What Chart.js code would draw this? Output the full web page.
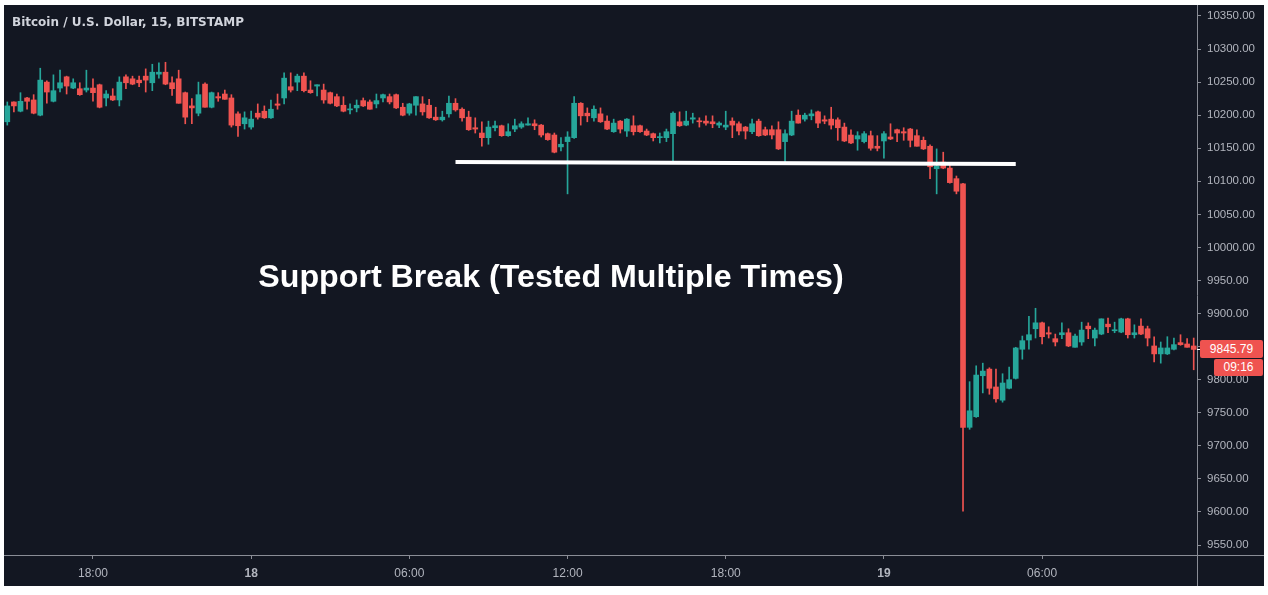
<!DOCTYPE html>
<html>
<head>
<meta charset="utf-8">
<script src="https://cdn.jsdelivr.net/npm/chart.js@4.4.1/dist/chart.umd.min.js"></script>
<style>
html, body { margin: 0; padding: 0; background: #ffffff; }
#wrap { position: absolute; left: 4px; top: 5px; width: 1260px; height: 581px; background: #131722; overflow: hidden; }
#title { position: absolute; left: 8px; top: 10px; font: bold 12px "DejaVu Sans", sans-serif; color: #d1d4dc; white-space: nowrap; }
#note { position: absolute; left: 547px; top: 253px; transform: translateX(-50%); font: bold 32.2px "Liberation Sans", Arial, sans-serif; line-height: 36px; color: #ffffff; white-space: nowrap; }
.tag { position: absolute; background: #ef5350; color: #ffffff; font: 12px "Liberation Sans", Arial, sans-serif; line-height: 18px; text-align: center; border-radius: 2px; }
</style>
</head>
<body>
<div id="wrap">
  <canvas id="chartCanvas"></canvas>
  <div id="title">Bitcoin / U.S. Dollar, 15, BITSTAMP</div>
  <div id="note">Support Break (Tested Multiple Times)</div>
  <div id="priceTag" class="tag" style="width:63px;height:18px;">9845.79</div>
  <div id="timeTag" class="tag" style="width:49px;height:17px;line-height:17px;">09:16</div>
</div>
<script>
// 15 minute candles, first one at 14:45 on the 17th
const startHour = 14, startMin = 45;

const open = [10190,10220,10206,10226,10223,10200,10250,10221,10241,10258,
10241,10240,10238,10241,10246,10226,10229,10223,10258,10255,
10253,10259,10249,10262,10265,10249,10255,10234,10214,10203,
10247,10212,10228,10232,10226,10202,10187,10182,10203,10206,
10196,10217,10226,10243,10250,10259,10238,10244,10238,10234,
10228,10215,10208,10211,10222,10220,10217,10226,10228,10231,
10212,10203,10215,10217,10215,10197,10193,10202,10218,10209,
10197,10181,10173,10166,10181,10184,10169,10179,10182,10185,
10187,10185,10172,10170,10152,10160,10166,10218,10203,10196,
10202,10191,10175,10191,10176,10184,10184,10176,10172,10166,
10166,10172,10190,10185,10194,10191,10191,10190,10185,10182,
10191,10187,10182,10175,10191,10178,10178,10178,10160,10170,
10200,10194,10199,10205,10193,10194,10193,10182,10170,10164,
10160,10169,10153,10161,10167,10178,10175,10179,10169,10162,
10153,10119,10129,10120,10104,10096,9728,9744,9806,9816,
9789,9769,9787,9802,9846,9860,9877,9886,9871,9862,
9868,9871,9849,9857,9881,9863,9869,9884,9874,9872,
9892,9868,9881,9877,9851,9839,9839,9846,9856,9854,
9851];

const high = [10220,10220,10234,10227,10231,10271,10252,10261,10268,10259,
10255,10249,10268,10255,10247,10237,10240,10258,10261,10259,
10259,10270,10277,10279,10280,10258,10268,10235,10225,10250,
10249,10235,10234,10238,10231,10205,10205,10206,10217,10214,
10223,10232,10264,10264,10262,10264,10252,10246,10247,10235,
10232,10228,10217,10223,10226,10223,10232,10232,10232,10232,
10218,10218,10228,10228,10224,10212,10206,10229,10225,10211,
10206,10196,10190,10191,10191,10185,10187,10194,10190,10196,
10193,10186,10173,10173,10166,10175,10228,10219,10211,10214,
10211,10199,10194,10192,10195,10199,10185,10179,10173,10173,
10179,10205,10205,10206,10203,10196,10199,10199,10190,10206,
10196,10190,10183,10194,10194,10182,10184,10190,10178,10206,
10208,10203,10208,10206,10199,10212,10196,10188,10178,10175,
10175,10176,10169,10175,10187,10179,10181,10180,10178,10167,
10155,10149,10144,10126,10108,10097,9797,9821,9825,9818,
9816,9809,9819,9849,9866,9896,9908,9887,9880,9869,
9886,9877,9869,9887,9886,9878,9892,9893,9887,9893,
9893,9883,9892,9881,9865,9857,9865,9863,9868,9862,
9863];

const low = [10185,10205,10205,10209,10202,10199,10218,10220,10235,10232,
10240,10230,10235,10221,10211,10214,10222,10214,10240,10246,
10243,10235,10237,10256,10246,10230,10218,10187,10187,10199,
10212,10211,10221,10224,10182,10168,10179,10179,10194,10195,
10195,10209,10217,10235,10237,10235,10233,10229,10218,10217,
10213,10205,10202,10205,10213,10209,10211,10220,10217,10210,
10199,10200,10200,10200,10195,10192,10191,10197,10206,10191,
10177,10173,10153,10156,10176,10168,10168,10175,10180,10185,
10178,10167,10162,10143,10146,10081,10165,10185,10190,10191,
10189,10178,10174,10173,10168,10170,10174,10169,10161,10158,
10160,10129,10183,10184,10188,10182,10185,10181,10181,10178,
10166,10170,10164,10172,10168,10169,10164,10148,10129,10169,
10188,10191,10193,10181,10187,10179,10162,10160,10157,10147,
10158,10147,10146,10135,10163,10160,10162,10152,10153,10148,
10104,10081,10119,10097,10081,9601,9725,9743,9780,9778,
9766,9766,9786,9801,9831,9846,9863,9854,9863,9851,
9862,9850,9849,9852,9862,9851,9868,9871,9871,9871,
9863,9863,9868,9851,9827,9825,9838,9845,9852,9849,
9815];

const close = [10214,10214,10221,10221,10203,10253,10235,10237,10249,10244,
10249,10231,10241,10234,10212,10232,10223,10250,10249,10247,
10249,10253,10265,10265,10247,10240,10218,10197,10211,10231,
10212,10234,10226,10224,10185,10184,10196,10194,10197,10196,
10209,10215,10256,10238,10259,10237,10234,10246,10223,10218,
10214,10206,10209,10215,10214,10209,10222,10231,10220,10211,
10200,10217,10228,10205,10196,10193,10197,10218,10208,10196,
10178,10179,10166,10182,10184,10169,10175,10184,10187,10187,
10184,10170,10163,10144,10156,10167,10218,10199,10199,10209,
10190,10179,10188,10179,10194,10175,10175,10170,10166,10167,
10175,10203,10184,10191,10196,10190,10188,10187,10188,10185,
10185,10176,10176,10187,10169,10170,10170,10149,10172,10191,
10188,10200,10202,10188,10191,10185,10181,10161,10158,10169,
10172,10150,10150,10172,10164,10173,10173,10162,10153,10149,
10122,10123,10120,10098,10085,9728,9753,9807,9813,9787,
9771,9795,9800,9848,9859,9868,9886,9865,9869,9857,
9871,9851,9866,9875,9877,9875,9892,9880,9875,9892,
9868,9871,9869,9863,9839,9848,9848,9853,9853,9849,
9845.79];

// x axis ticks (candle index -> text)
const tickIdx = [13, 37, 61, 85, 109, 133, 157];
const tickText = ["18:00", "18", "06:00", "12:00", "18:00", "19", "06:00"];
const boldTicks = ["18", "19"];

// price axis
const yTicks = [10350, 10300, 10250, 10200, 10150, 10100, 10050, 10000, 9950, 9900, 9850, 9800, 9750, 9700, 9650, 9600, 9550];
const yMin = 9534.9, yMax = 10366.6;

// hand drawn support line: from candle to candle
const supportIdx = [68, 153];
const supportVal = [10129, 10126];

const countdown = "09:16";

const UP = "#26a69a", DOWN = "#ef5350";

let labels = [];
for (let i = 0; i < open.length; i++) {
    let m = startHour * 60 + startMin + i * 15;
    let hh = Math.floor(m / 60) % 24, mm = m % 60;
    labels.push(String(hh).padStart(2, "0") + ":" + String(mm).padStart(2, "0"));
}

let colors = open.map((o, i) => close[i] >= o ? UP : DOWN);
let bodies = open.map((o, i) => [o, close[i]]);
let wicks = low.map((l, i) => [l, high[i]]);
let support = labels.map((_, i) => {
    let k = supportIdx.indexOf(i);
    return k >= 0 ? supportVal[k] : null;
});

const framePlugin = {
    id: "frame",
    afterDraw(chart) {
        let ctx = chart.ctx, a = chart.chartArea;
        ctx.save();
        ctx.strokeStyle = "#8a8d96";
        ctx.lineWidth = 1;
        ctx.beginPath();
        ctx.moveTo(0, a.bottom + 0.5);
        ctx.lineTo(chart.width, a.bottom + 0.5);
        ctx.moveTo(a.right + 0.5, 0);
        ctx.lineTo(a.right + 0.5, chart.height);
        ctx.stroke();

        // last price mark on the axis
        let y = chart.scales.y.getPixelForValue(close[close.length - 1]);
        ctx.strokeStyle = "#ffffff";
        ctx.beginPath();
        ctx.moveTo(a.right, Math.round(y) + 0.5);
        ctx.lineTo(a.right + 4, Math.round(y) + 0.5);
        ctx.stroke();
        ctx.restore();

        let p = document.getElementById("priceTag");
        p.style.left = (a.right + 3) + "px";
        p.style.top = (y - 9) + "px";
        let t = document.getElementById("timeTag");
        t.style.left = (a.right + 17) + "px";
        t.style.top = (y + 10) + "px";
        t.innerText = countdown;
        p.innerText = close[close.length - 1].toFixed(2);
    }
};

let canvas = document.getElementById("chartCanvas");
canvas.style.width = "1260px";
canvas.style.height = "581px";

new Chart(canvas, {
    type: "bar",
    data: {
        labels: labels,
        datasets: [
            {
                type: "line",
                data: support,
                borderColor: "#ffffff",
                borderWidth: 4,
                pointRadius: 0,
                spanGaps: true,
                borderCapStyle: "butt",
                order: 0
            },
            {
                data: bodies,
                backgroundColor: colors,
                borderWidth: 0,
                barThickness: 5,
                minBarLength: 1,
                grouped: false,
                order: 1
            },
            {
                data: wicks,
                backgroundColor: colors,
                borderWidth: 0,
                barThickness: 1,
                grouped: false,
                order: 2
            }
        ]
    },
    options: {
        responsive: false,
        animation: false,
        events: [],
        layout: { padding: { left: -2, right: 0, top: 0, bottom: 0 } },
        plugins: { legend: { display: false }, tooltip: { enabled: false } },
        scales: {
            x: {
                offset: true,
                grid: { display: true, offset: false, drawOnChartArea: false, drawTicks: true, tickLength: 4, color: "#8a8d96" },
                border: { display: false },
                afterBuildTicks: (scale) => { scale.ticks = tickIdx.map(v => ({ value: v })); },
                afterFit: (scale) => { scale.height = 31; scale.paddingLeft = 0; scale.paddingRight = 0; },
                ticks: {
                    autoSkip: false,
                    maxRotation: 0,
                    padding: 7,
                    color: "#b2b5be",
                    font: (c) => ({
                        family: "Liberation Sans",
                        size: 12,
                        weight: (c.tick && boldTicks.includes(tickText[tickIdx.indexOf(c.tick.value)])) ? "bold" : "normal"
                    }),
                    callback: (v) => tickText[tickIdx.indexOf(v)]
                }
            },
            y: {
                position: "right",
                min: yMin,
                max: yMax,
                grid: { display: true, drawOnChartArea: false, drawTicks: true, tickLength: 4, color: "#8a8d96" },
                border: { display: false },
                afterBuildTicks: (scale) => { scale.ticks = yTicks.map(v => ({ value: v })); },
                afterFit: (scale) => { scale.width = 67; scale.paddingTop = 0; scale.paddingBottom = 0; },
                ticks: {
                    padding: 6,
                    color: "#b2b5be",
                    font: { family: "Liberation Sans", size: 11.5 },
                    callback: (v) => Number(v).toFixed(2)
                }
            }
        }
    },
    plugins: [framePlugin]
});
</script>
</body>
</html>
